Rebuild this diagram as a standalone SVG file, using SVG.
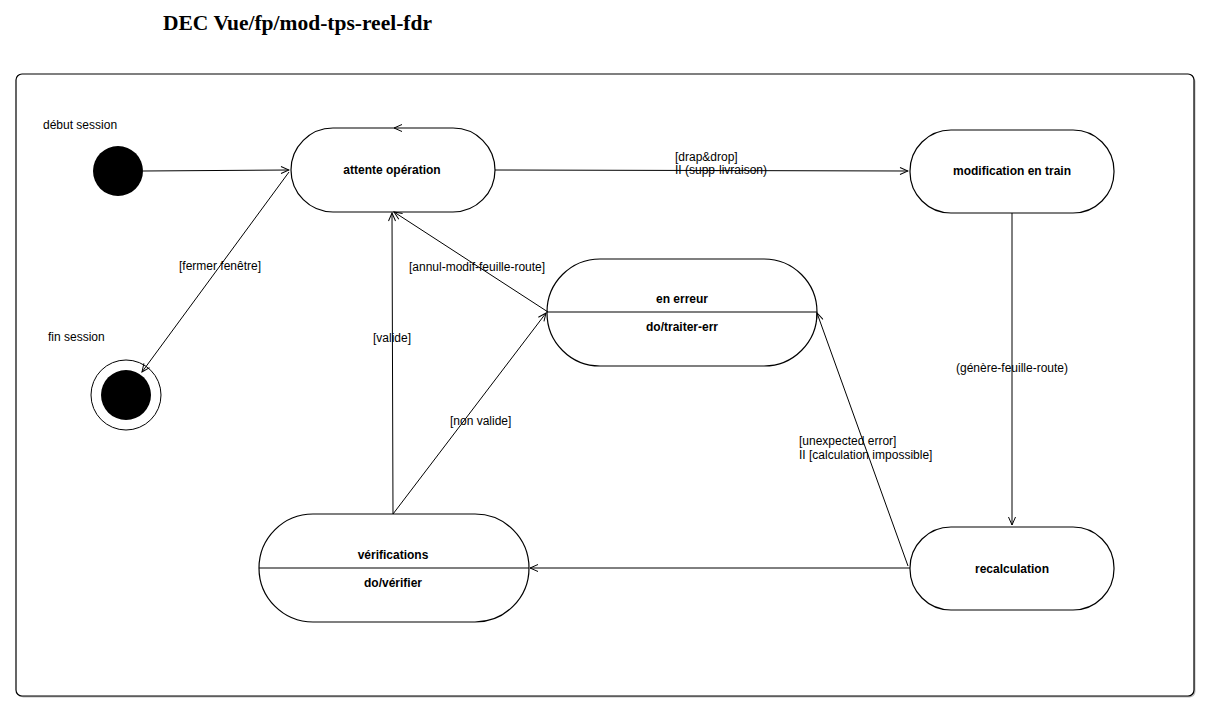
<svg xmlns="http://www.w3.org/2000/svg" width="1208" height="713" viewBox="0 0 1208 713">
<style>
.st{fill:#fff;stroke:#000;stroke-width:1.2}
.lbl{font-family:"Liberation Sans",Arial,sans-serif;font-size:12px;fill:#000}
.nm{font-family:"Liberation Sans",Arial,sans-serif;font-size:12px;font-weight:bold;fill:#000;text-anchor:middle}
.cn{fill:none;stroke:#000;stroke-width:1}
</style>
<defs>
<marker id="ah" markerWidth="10" markerHeight="8" refX="9" refY="4" orient="auto" markerUnits="userSpaceOnUse">
<path d="M1,0.5 L9,4 L1,7.5" fill="none" stroke="#000" stroke-width="1"/>
</marker>
</defs>
<rect width="1208" height="713" fill="#fff"/>
<text x="163" y="30" font-family="'Liberation Serif','DejaVu Serif',serif" font-size="20.5" font-weight="bold" textLength="269" lengthAdjust="spacingAndGlyphs">DEC Vue/fp/mod-tps-reel-fdr</text>
<g id="frame">
<rect x="17.5" y="75.5" width="1178" height="622" rx="6" fill="#bbb"/>
<rect x="16" y="74" width="1178" height="622" rx="6" fill="#fff" stroke="#000" stroke-width="1.2"/>
</g>
<g id="initial">
<text class="lbl" x="43" y="129">début session</text>
<circle cx="118" cy="171" r="25" fill="#000"/>
</g>
<g id="final">
<text class="lbl" x="48" y="341">fin session</text>
<circle cx="126" cy="395" r="35" fill="#fff" stroke="#000" stroke-width="1"/>
<circle cx="126" cy="395" r="25" fill="#000"/>
</g>
<g id="attente">
<rect class="st" x="291" y="128" width="204" height="84" rx="42"/>
<text class="nm" x="392" y="174">attente opération</text>
</g>
<g id="modification">
<rect class="st" x="910" y="130" width="204" height="83" rx="41"/>
<text class="nm" x="1012" y="175">modification en train</text>
</g>
<g id="erreur">
<rect class="st" x="547" y="259" width="270" height="107" rx="53"/>
<line x1="547" y1="312" x2="817" y2="312" stroke="#000" stroke-width="1.2"/>
<text class="nm" x="682" y="303">en erreur</text>
<text class="nm" x="682" y="331">do/traiter-err</text>
</g>
<g id="verifications">
<rect class="st" x="259" y="514" width="270" height="108" rx="54"/>
<line x1="259" y1="568" x2="529" y2="568" stroke="#000" stroke-width="1.2"/>
<text class="nm" x="393" y="559">vérifications</text>
<text class="nm" x="393" y="587">do/vérifier</text>
</g>
<g id="recalculation">
<rect class="st" x="910" y="527" width="204" height="83" rx="41"/>
<text class="nm" x="1012" y="573">recalculation</text>
</g>
<g id="connectors">
<line class="cn" x1="143" y1="171" x2="289" y2="170" marker-end="url(#ah)"/>
<line class="cn" x1="289" y1="172" x2="142" y2="372" marker-end="url(#ah)"/>
<line class="cn" x1="495" y1="170" x2="908" y2="171" marker-end="url(#ah)"/>
<line class="cn" x1="1012" y1="213" x2="1012" y2="525" marker-end="url(#ah)"/>
<line class="cn" x1="910" y1="568" x2="530" y2="568" marker-end="url(#ah)"/>
<line class="cn" x1="908" y1="566" x2="817" y2="313" marker-end="url(#ah)"/>
<line class="cn" x1="393" y1="514" x2="392" y2="213" marker-end="url(#ah)"/>
<line class="cn" x1="393" y1="514" x2="546" y2="313" marker-end="url(#ah)"/>
<line class="cn" x1="548" y1="312" x2="394" y2="212" marker-end="url(#ah)"/>
<path class="cn" d="M402,124.5 L394,128 L402,131.5"/>
<text class="lbl" x="179" y="270">[fermer fenêtre]</text>
<text class="lbl" x="675" y="161">[drap&amp;drop]</text>
<text class="lbl" x="675" y="174">II (supp-livraison)</text>
<text class="lbl" x="1012" y="372" text-anchor="middle">(génère-feuille-route)</text>
<text class="lbl" x="799" y="445">[unexpected error]</text>
<text class="lbl" x="799" y="459">II [calculation impossible]</text>
<text class="lbl" x="373" y="342">[valide]</text>
<text class="lbl" x="450" y="425">[non valide]</text>
<text class="lbl" x="409" y="271">[annul-modif-feuille-route]</text>
</g>
</svg>
